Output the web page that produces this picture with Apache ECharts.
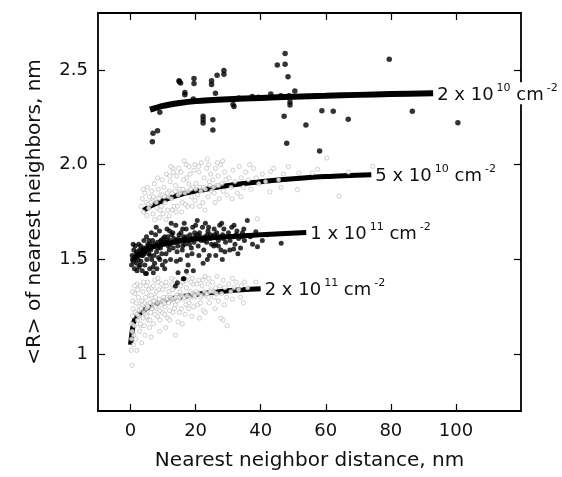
<!DOCTYPE html>
<html>
<head>
<meta charset="utf-8">
<script src="https://cdn.jsdelivr.net/npm/echarts@6/dist/echarts.min.js"></script>
<style>
html,body{margin:0;padding:0;background:#fff;}
#chart{width:562px;height:477px;}
</style>
</head>
<body>
<div id="chart"></div>
<script>
// ---- axis ticks ----
const xTicks = [0, 20, 40, 60, 80, 100];
const yTicks = [1, 1.5, 2, 2.5];
const yTickLabels = ['1', '1.5', '2.0', '2.5'];
const xTitle = 'Nearest neighbor distance, nm';
const yTitle = '<R> of nearest neighbors, nm';

// ---- series labels: [mantissa, exponent] ----
const seriesNames = ['2e10', '5e10', '1e11', '2e11'];
const labelParts = [['2 x 10', '10'], ['5 x 10', '10'], ['1 x 10', '11'], ['2 x 10', '11']];

// ---- scatter data ----
const pts2e10 = [
[6.7,2.121],[6.9,2.165],[8.3,2.179],[9.0,2.276],[14.9,2.442],[15.4,2.430],[15.0,2.437],[16.7,2.381],[16.7,2.368],
[19.5,2.455],[19.5,2.428],[19.3,2.346],[22.3,2.255],[22.3,2.237],[22.3,2.219],[24.9,2.442],[24.9,2.423],[26.1,2.377],
[25.3,2.237],[25.3,2.183],[26.6,2.472],[28.7,2.497],[28.7,2.477],[31.8,2.307],[31.5,2.317],[33.3,2.351],[37.4,2.360],
[39.3,2.355],[43.1,2.372],[45.1,2.525],[46.2,2.363],[47.5,2.586],[47.5,2.530],[48.4,2.463],[47.2,2.255],[49.0,2.314],
[49.0,2.330],[48.0,2.113],[50.5,2.389],[48.7,2.363],[53.9,2.209],[58.1,2.072],[58.8,2.284],[62.3,2.281],[66.9,2.240],
[79.5,2.556],[86.6,2.281],[100.6,2.221]
];

const pts5e10 = [
[3.2,1.78],[3.6,1.82],[4.0,1.75],[4.4,1.85],[4.8,1.80],[5.2,1.88],[5.6,1.77],[3.9,1.87],[5.0,1.73],[5.8,1.83],
[6.1,1.79],[6.5,1.86],[6.9,1.74],[7.3,1.90],[7.7,1.82],[8.1,1.77],[8.5,1.87],[8.9,1.72],[9.3,1.84],[9.7,1.92],[6.7,1.81],[8.3,1.93],[9.5,1.78],
[10.2,1.88],[10.6,1.80],[11.0,1.95],[11.4,1.76],[11.8,1.86],[12.2,1.91],[12.6,1.82],[13.0,1.98],[13.4,1.78],[13.8,1.89],[14.2,1.94],[14.6,1.84],[10.9,1.71],[12.4,1.99],[14.0,1.75],[11.6,1.83],
[15.1,1.87],[15.5,1.96],[15.9,1.80],[16.3,1.92],[16.7,1.85],[17.1,2.00],[17.5,1.78],[17.9,1.90],[18.3,1.95],[18.7,1.83],[19.1,1.88],[19.5,1.97],[15.7,1.75],[17.3,1.93],[19.8,1.81],[16.5,2.02],
[20.2,1.90],[20.6,1.84],[21.0,1.96],[21.4,1.88],[21.8,2.01],[22.2,1.80],[22.6,1.93],[23.0,1.87],[23.4,1.98],[23.8,1.83],[24.2,1.91],[24.6,1.95],[21.2,1.78],[23.6,2.03],[22.9,1.76],[24.9,1.86],
[25.3,1.92],[25.7,1.85],[26.1,1.98],[26.5,1.89],[26.9,1.94],[27.3,1.82],[27.7,2.00],[28.1,1.90],[28.5,1.86],[28.9,1.96],[29.3,1.92],[29.7,1.84],[26.0,1.80],[28.3,2.02],
[30.3,1.93],[30.9,1.88],[31.5,1.97],[32.1,1.91],[32.8,1.85],[33.4,1.99],[34.0,1.93],[34.7,1.88],[35.4,1.96],[36.2,1.92],[37.0,1.87],[37.8,1.98],[38.6,1.93],[39.4,1.90],[31.2,1.82],[36.6,2.00],[33.9,1.83],
[40.5,1.95],[41.5,1.91],[42.8,1.856],[43.0,1.963],[44.0,1.98],[45.5,1.92],[47.0,1.95],[48.5,1.99],[46.2,1.88],
[51.3,1.868],[51.7,1.956],[55.9,1.956],[60.3,2.035],[64.1,1.833],[74.4,1.991],[57.5,1.975],[67.0,1.96],[39.0,1.714],
[5.4,1.79],[6.3,1.80],[7.0,1.83],[7.9,1.80],[8.7,1.82],[9.9,1.84],[10.4,1.83],[11.3,1.85],[12.9,1.85],[13.7,1.86],
[15.3,1.85],[16.1,1.87],[17.7,1.86],[18.5,1.87],[20.0,1.87],[21.6,1.86],[22.4,1.88],[24.4,1.89],[25.5,1.88],[27.1,1.89],
[12.0,1.94],[13.2,1.96],[14.8,1.98],[18.0,1.99],[19.8,2.00],[20.9,1.99],[24.0,2.00],[26.7,2.01],[10.0,1.74],[12.8,1.76],
[14.4,1.78],[16.9,1.79],[19.0,1.78],[7.4,1.71],[9.1,1.76],[11.9,1.73]
];

const pts1e11 = [
[0.3,1.47],[0.5,1.52],[0.8,1.49],[1.0,1.55],[1.2,1.45],[1.5,1.51],[1.8,1.48],[2.0,1.54],[2.3,1.50],[2.6,1.46],[2.9,1.53],[0.6,1.50],[1.4,1.57],[2.5,1.58],
[3.2,1.49],[3.5,1.55],[3.8,1.52],[4.1,1.60],[4.4,1.47],[4.7,1.56],[5.0,1.50],[5.3,1.58],[5.6,1.53],[5.9,1.45],[3.6,1.44],[4.9,1.62],[5.7,1.60],[4.2,1.53],[3.1,1.57],
[6.2,1.55],[6.5,1.50],[6.8,1.60],[7.1,1.57],[7.4,1.48],[7.7,1.63],[8.0,1.54],[8.3,1.59],[8.6,1.51],[8.9,1.65],[9.2,1.56],[9.5,1.60],[9.8,1.47],[6.4,1.64],[7.2,1.52],[8.1,1.45],[9.0,1.58],[9.6,1.53],[6.9,1.46],[7.9,1.67],
[10.2,1.58],[10.5,1.62],[10.9,1.53],[11.2,1.66],[11.6,1.57],[12.0,1.60],[12.3,1.50],[12.7,1.63],[13.1,1.56],[13.5,1.59],[13.9,1.68],[14.3,1.54],[14.7,1.61],[10.7,1.49],[11.9,1.55],[13.0,1.64],[14.1,1.49],[12.5,1.69],[11.0,1.60],[14.5,1.57],
[15.1,1.60],[15.5,1.64],[15.9,1.55],[16.3,1.62],[16.7,1.58],[17.1,1.66],[17.5,1.52],[17.9,1.60],[18.3,1.63],[18.7,1.56],[19.1,1.67],[19.5,1.59],[19.9,1.62],[15.3,1.50],[16.5,1.69],[17.7,1.47],[18.9,1.53],[16.0,1.57],[19.3,1.44],
[20.2,1.61],[20.5,1.705],[20.8,1.57],[21.2,1.64],[21.7,1.60],[22.1,1.67],[22.5,1.55],[22.9,1.62],[23.4,1.59],[23.8,1.65],[24.2,1.52],[24.6,1.63],[21.0,1.52],[23.0,1.69],[24.9,1.58],[22.3,1.48],
[25.3,1.62],[25.7,1.66],[26.1,1.58],[26.5,1.64],[27.0,1.60],[27.4,1.68],[27.8,1.55],[28.3,1.63],[28.7,1.66],[29.2,1.59],[29.6,1.62],[26.2,1.52],[28.0,1.69],[29.0,1.54],[25.6,1.57],[23.6,1.50],[28.2,1.50],
[30.1,1.64],[30.6,1.60],[31.1,1.67],[31.6,1.62],[32.1,1.58],[32.7,1.65],[33.2,1.61],[33.8,1.56],[34.4,1.64],[35.0,1.60],[35.9,1.705],[31.8,1.68],[34.8,1.66],[33.0,1.53],[30.5,1.55],[31.7,1.555],
[36.8,1.62],[38.5,1.646],[39.0,1.567],[40.5,1.60],[42.0,1.63],[46.3,1.585],[37.5,1.58],
[4.6,1.425],[4.9,1.425],[14.6,1.43],[16.2,1.398],[14.4,1.377],[16.4,1.398],[17.2,1.437],[13.8,1.36],
[1.1,1.51],[1.7,1.53],[2.2,1.52],[2.8,1.55],[3.4,1.52],[4.0,1.56],[4.5,1.54],[5.1,1.55],[5.5,1.57],[6.0,1.58],
[6.6,1.57],[7.5,1.58],[8.4,1.56],[9.3,1.60],[10.0,1.61],[10.8,1.59],[11.5,1.62],[12.2,1.58],[13.3,1.61],[14.0,1.60],
[14.9,1.63],[15.7,1.60],[16.6,1.61],[17.3,1.62],[18.1,1.58],[18.9,1.61],[19.7,1.64],[20.6,1.63],[21.5,1.62],[22.7,1.60],
[23.6,1.63],[24.5,1.61],[25.9,1.63],[27.2,1.62],[28.5,1.61],[30.3,1.62],[32.4,1.63],[34.1,1.62],[3.0,1.47],[6.0,1.52],
[9.0,1.50],[12.0,1.65],[16.0,1.66],[20.0,1.68],[24.0,1.67],[27.0,1.57],[0.8,1.58],[2.0,1.44],[7.0,1.43],[10.5,1.45]
];

const pts2e11 = [
[0.2,1.02],[0.3,1.08],[0.5,1.12],[0.4,1.16],[0.6,1.20],[0.8,1.24],[0.9,1.05],[1.0,1.10],[0.7,1.28],[1.2,1.15],
[1.5,1.22],[1.8,1.27],[2.1,1.18],[2.4,1.30],[1.6,1.08],[2.8,1.12],[2.9,1.25],[2.2,1.34],[1.9,1.02],[2.6,1.20],
[3.2,1.15],[3.5,1.28],[3.8,1.33],[4.1,1.22],[4.4,1.10],[4.8,1.36],[5.1,1.26],[5.5,1.18],[5.8,1.31],[3.4,1.06],[4.6,1.30],[5.3,1.38],[5.9,1.14],[3.9,1.19],[4.9,1.24],
[6.2,1.22],[6.5,1.35],[6.8,1.28],[7.1,1.16],[7.4,1.39],[7.7,1.30],[8.0,1.24],[8.3,1.20],[8.6,1.34],[8.9,1.12],[9.2,1.28],[9.5,1.37],[9.8,1.22],[6.3,1.09],[7.9,1.33],[9.0,1.18],[6.9,1.26],[8.4,1.40],
[10.2,1.30],[10.6,1.25],[11.0,1.36],[11.4,1.19],[11.8,1.33],[12.2,1.28],[12.6,1.40],[13.0,1.22],[13.4,1.35],[13.8,1.26],[14.2,1.31],[14.6,1.17],[10.8,1.14],[12.0,1.23],[13.6,1.39],[14.8,1.29],[11.3,1.30],[12.9,1.34],
[15.2,1.33],[15.6,1.24],[16.0,1.38],[16.4,1.29],[16.8,1.21],[17.2,1.35],[17.6,1.41],[18.0,1.27],[18.4,1.33],[18.8,1.20],[19.2,1.37],[19.6,1.30],[15.9,1.16],[17.9,1.24],[19.0,1.40],
[20.2,1.33],[20.6,1.26],[21.0,1.39],[21.5,1.30],[22.0,1.36],[22.4,1.23],[22.9,1.41],[23.3,1.31],[23.8,1.37],[24.2,1.27],[24.7,1.34],[21.2,1.19],[23.0,1.22],
[25.2,1.38],[25.7,1.30],[26.1,1.35],[26.6,1.41],[27.0,1.28],[27.5,1.36],[28.0,1.32],[28.5,1.39],[29.0,1.35],[29.5,1.30],[26.0,1.24],[28.8,1.26],
[30.2,1.37],[30.8,1.33],[31.3,1.40],[31.8,1.35],[32.5,1.38],[33.2,1.34],[34.0,1.36],[35.0,1.38],[36.0,1.35],[33.8,1.30],
[0.5,0.94],[13.8,1.10],[27.7,1.19],[28.5,1.18],[29.7,1.15],[34.7,1.27],[38.5,1.38],[31.3,1.29],
[2.0,1.21],[2.7,1.23],[3.3,1.24],[3.7,1.26],[4.3,1.27],[4.7,1.21],[5.4,1.25],[6.0,1.27],[6.6,1.24],[7.2,1.28],
[7.6,1.25],[8.2,1.27],[8.8,1.29],[9.4,1.26],[10.0,1.28],[10.4,1.27],[11.1,1.29],[11.7,1.27],[12.4,1.30],[13.2,1.29],
[13.9,1.30],[14.4,1.28],[15.0,1.30],[15.8,1.31],[16.6,1.30],[17.4,1.31],[18.2,1.30],[19.0,1.32],[19.8,1.31],[20.8,1.32],
[21.8,1.31],[22.7,1.33],[23.6,1.32],[24.5,1.33],[25.5,1.33],[26.4,1.32],
[1.3,1.32],[2.0,1.37],[3.0,1.36],[4.0,1.38],[5.6,1.34],[6.4,1.31],[7.0,1.36],[8.5,1.38],[9.9,1.34],[10.9,1.38],
[12.8,1.37],[14.0,1.36],[15.4,1.36],[16.9,1.39],[18.6,1.38],[20.4,1.37],[22.2,1.39],[24.0,1.40],[3.0,1.16],[4.2,1.15],
[5.0,1.20],[6.0,1.18],[7.5,1.21],[9.0,1.23],[10.5,1.21],[12.0,1.18],[13.5,1.24],[15.0,1.22],[17.0,1.26],[19.4,1.25],
[21.5,1.27],[24.0,1.30],[1.2,1.36],[0.6,1.33]
];

// ---- fitted curves ----
const fit2e10 = [[6,2.29],[10,2.31],[15,2.325],[20,2.335],[30,2.345],[40,2.352],[50,2.358],[60,2.363],[70,2.368],[80,2.372],[93,2.376]];
const fit5e10 = [[4,1.758],[6,1.78],[10,1.81],[15,1.84],[20,1.86],[30,1.89],[40,1.91],[50,1.925],[60,1.937],[74,1.947]];
const fit1e11 = [[1,1.50],[3,1.53],[6,1.56],[10,1.58],[15,1.595],[20,1.607],[30,1.62],[40,1.63],[54,1.642]];
const fit2e11 = [[0,1.05],[0.5,1.12],[1,1.17],[2,1.20],[4,1.23],[7,1.26],[10,1.28],[15,1.30],[20,1.315],[30,1.335],[40,1.345]];

const FONT = '"DejaVu Sans", Verdana, sans-serif';
const chart = echarts.init(document.getElementById('chart'), null, {renderer: 'canvas'});

const richLabel = {
  n: {fontSize: 18, fontFamily: FONT, color: '#111', lineHeight: 22, verticalAlign: 'bottom'},
  s: {fontSize: 11, fontFamily: FONT, color: '#111', lineHeight: 22, verticalAlign: 'top', padding: [0, 0, 0, 3]}
};
function labelFmt(i) {
  const p = labelParts[i];
  return '{n|' + p[0] + '}{s|' + p[1] + '}{n| cm}{s|-2}';
}

const fits = [fit2e10, fit5e10, fit1e11, fit2e11];
const fitSeries = fits.map((d, i) => ({
  name: 'fit' + seriesNames[i],
  type: 'line',
  data: d,
  smooth: 0.3,
  showSymbol: false,
  symbol: 'none',
  z: 2,
  lineStyle: {color: '#000', width: i === 0 ? 6 : 5},
  endLabel: {
    show: true, distance: 3, formatter: () => labelFmt(i), rich: richLabel,
    backgroundColor: i === 0 ? '#ffffff' : 'transparent', padding: [0, 1, 0, 1]
  },
  emphasis: {disabled: true},
  silent: true,
  animation: false
}));

const hollow = {color: '#ffffff', borderColor: '#aaaaaa', borderWidth: 0.7};
const scatterSeries = [
  {type: 'scatter', data: pts5e10, symbolSize: 4.2, itemStyle: hollow, z: 3},
  {type: 'scatter', data: pts2e11, symbolSize: 4.2, itemStyle: hollow, z: 3},
  {type: 'scatter', data: pts2e10, symbolSize: 5.5, itemStyle: {color: '#000'}, z: 4},
  {type: 'scatter', data: pts1e11, symbolSize: 5, itemStyle: {color: '#000'}, z: 4}
].map(s => Object.assign(s, {silent: true, animation: false}));

const tickStyle = {show: true, inside: true, length: 7, lineStyle: {color: '#000', width: 1.2}};
const axisLineStyle = {show: true, onZero: false, lineStyle: {color: '#000', width: 1.8}};

chart.setOption({
  animation: false,
  backgroundColor: '#fff',
  grid: {left: 98, right: 41, top: 13, bottom: 66, show: false},
  xAxis: [
    {
      type: 'value', min: -10, max: 120, position: 'bottom',
      axisLine: axisLineStyle,
      axisTick: Object.assign({customValues: xTicks}, tickStyle),
      axisLabel: {customValues: xTicks, fontSize: 18, fontFamily: FONT, color: '#111', margin: 11},
      splitLine: {show: false},
      name: xTitle, nameLocation: 'middle', nameGap: 40,
      nameTextStyle: {fontSize: 20, fontFamily: FONT, color: '#111'}
    },
    {
      type: 'value', min: -10, max: 120, position: 'top',
      axisLine: axisLineStyle,
      axisTick: Object.assign({customValues: xTicks}, tickStyle),
      axisLabel: {show: false},
      splitLine: {show: false}
    }
  ],
  yAxis: [
    {
      type: 'value', min: 0.7, max: 2.8, position: 'left',
      axisLine: axisLineStyle,
      axisTick: Object.assign({customValues: yTicks}, tickStyle),
      axisLabel: {
        customValues: yTicks, fontSize: 18, fontFamily: FONT, color: '#111', margin: 10,
        formatter: v => yTickLabels[yTicks.indexOf(+v.toFixed(2))]
      },
      splitLine: {show: false},
      name: yTitle, nameLocation: 'middle', nameGap: 53, nameRotate: 90,
      nameTextStyle: {fontSize: 20, fontFamily: FONT, color: '#111'}
    },
    {
      type: 'value', min: 0.7, max: 2.8, position: 'right',
      axisLine: axisLineStyle,
      axisTick: Object.assign({customValues: yTicks}, tickStyle),
      axisLabel: {show: false},
      splitLine: {show: false}
    }
  ],
  series: fitSeries.concat(scatterSeries)
});
</script>
</body>
</html>
